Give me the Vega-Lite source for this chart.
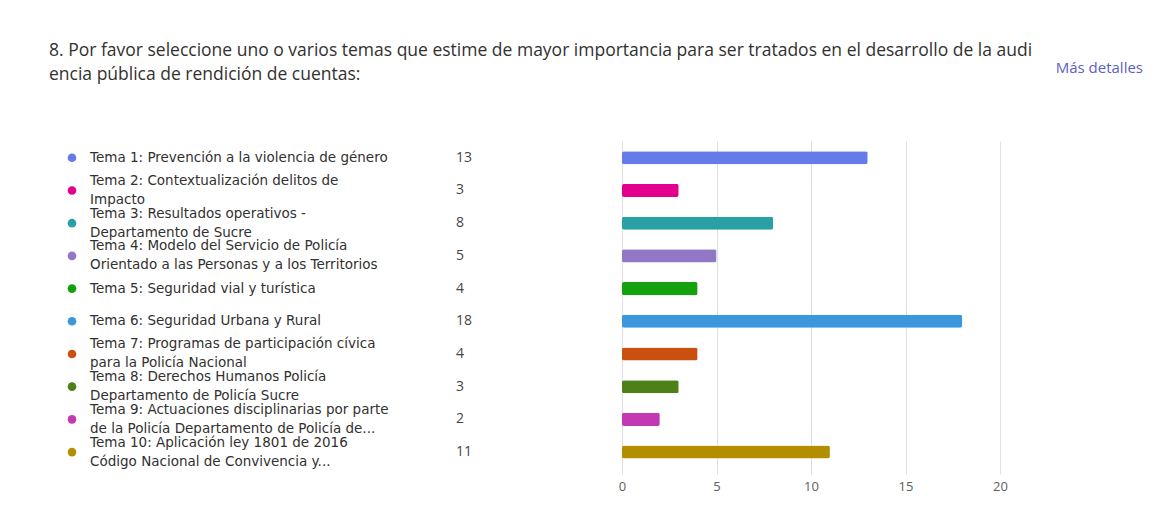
{
  "$schema": "https://vega.github.io/schema/vega-lite/v6.json",
  "background": "white",
  "padding": {"left": 49, "top": 41, "right": 0, "bottom": 0},
  "bounds": "flush",
  "spacing": 73,
  "config": {"view": {"stroke": null}, "font": "Open Sans"},
  "datasets": {
    "temas": [
      {"tema": "Tema 1", "line1": "\u00a0Tema 1: Prevención a la violencia de género", "line2": "", "count": 13},
      {"tema": "Tema 2", "line1": "Tema 2: Contextualización delitos de", "line2": "Impacto", "count": 3},
      {"tema": "Tema 3", "line1": "Tema 3: Resultados operativos -", "line2": "Departamento de Sucre", "count": 8},
      {"tema": "Tema 4", "line1": "Tema 4: Modelo del Servicio de Policía", "line2": "Orientado a las Personas y a los Territorios", "count": 5},
      {"tema": "Tema 5", "line1": "Tema 5: Seguridad vial y turística", "line2": "", "count": 4},
      {"tema": "Tema 6", "line1": "Tema 6: Seguridad Urbana y Rural", "line2": "", "count": 18},
      {"tema": "Tema 7", "line1": "Tema 7: Programas de participación cívica", "line2": "para la Policía Nacional", "count": 4},
      {"tema": "Tema 8", "line1": "Tema 8: Derechos Humanos Policía", "line2": "Departamento de Policía Sucre", "count": 3},
      {"tema": "Tema 9", "line1": "Tema 9: Actuaciones disciplinarias por parte", "line2": "de la Policía Departamento de Policía de...", "count": 2},
      {"tema": "Tema 10", "line1": "Tema 10: Aplicación ley 1801 de 2016", "line2": "Código Nacional de Convivencia y...", "count": 11}
    ]
  },
  "hconcat": [
    {
      "width": 500,
      "height": 333,
      "data": {"name": "temas"},
      "title": {
        "text": ["8. Por favor seleccione uno o varios temas que estime de mayor importancia para ser tratados en el desarrollo de la audi", "\u00a0\u00a0\u00a0encia pública de rendición de cuentas:"],
        "anchor": "start",
        "frame": "group",
        "fontSize": 17.5,
        "fontWeight": "normal",
        "color": "#323130",
        "lineHeight": 24,
        "offset": 58
      },
      "encoding": {
        "y": {"field": "tema", "type": "nominal", "sort": null, "scale": {"type": "band", "paddingInner": 0.6, "paddingOuter": 0.392, "align": 0.4}, "axis": null}
      },
      "layer": [
        {
          "mark": {"type": "point", "filled": true, "size": 75, "opacity": 1},
          "encoding": {
            "x": {"datum": 4.6, "type": "quantitative", "scale": {"domain": [0, 100]}, "axis": null},
            "color": {"field": "tema", "type": "nominal", "sort": null, "legend": null,
              "scale": {"range": ["#657be8", "#e3008c", "#29a0a4", "#9277c6", "#13a10e", "#3a96dd", "#ca5010", "#4e8019", "#c239b3", "#b38f00"]}}
          }
        },
        {
          "transform": [{"filter": "datum.line2 == ''"}],
          "mark": {"type": "text", "align": "left", "baseline": "middle", "font": "DejaVu Sans", "fontSize": 13.5, "color": "#323130"},
          "encoding": {
            "x": {"datum": 8.2, "type": "quantitative"},
            "text": {"field": "line1", "type": "nominal"}
          }
        },
        {
          "transform": [{"filter": "datum.line2 != ''"}],
          "mark": {"type": "text", "align": "left", "baseline": "middle", "font": "DejaVu Sans", "fontSize": 13.5, "dy": -9.5, "color": "#323130"},
          "encoding": {
            "x": {"datum": 8.2, "type": "quantitative"},
            "text": {"field": "line1", "type": "nominal"}
          }
        },
        {
          "transform": [{"filter": "datum.line2 != ''"}],
          "mark": {"type": "text", "align": "left", "baseline": "middle", "font": "DejaVu Sans", "fontSize": 13.5, "dy": 9.5, "color": "#323130"},
          "encoding": {
            "x": {"datum": 8.2, "type": "quantitative"},
            "text": {"field": "line2", "type": "nominal"}
          }
        },
        {
          "mark": {"type": "text", "align": "left", "baseline": "middle", "fontSize": 14, "color": "#484644"},
          "encoding": {
            "x": {"datum": 81.4, "type": "quantitative"},
            "text": {"field": "count", "type": "quantitative"}
          }
        }
      ]
    },
    {
      "width": 378,
      "height": 333,
      "data": {"name": "temas"},
      "title": {
        "text": "Más detalles",
        "anchor": "end",
        "frame": "group",
        "dx": 143,
        "fontSize": 15,
        "fontWeight": "normal",
        "color": "#5b5fc7",
        "offset": 65.5
      },
      "mark": {"type": "bar", "cornerRadius": 2},
      "encoding": {
        "y": {"field": "tema", "type": "nominal", "sort": null, "scale": {"type": "band", "paddingInner": 0.6, "paddingOuter": 0.392, "align": 0.4}, "axis": null},
        "x": {"field": "count", "type": "quantitative", "scale": {"domain": [0, 20]},
          "axis": {"values": [0, 5, 10, 15, 20], "title": null, "grid": true, "gridColor": "#e1dfdd", "domain": false, "ticks": false, "labelFlush": false, "labelPadding": 6, "labelFontSize": 13, "labelColor": "#605e5c"}},
        "color": {"field": "tema", "type": "nominal", "sort": null, "legend": null,
          "scale": {"range": ["#657be8", "#e3008c", "#29a0a4", "#9277c6", "#13a10e", "#3a96dd", "#ca5010", "#4e8019", "#c239b3", "#b38f00"]}}
      }
    }
  ]
}
